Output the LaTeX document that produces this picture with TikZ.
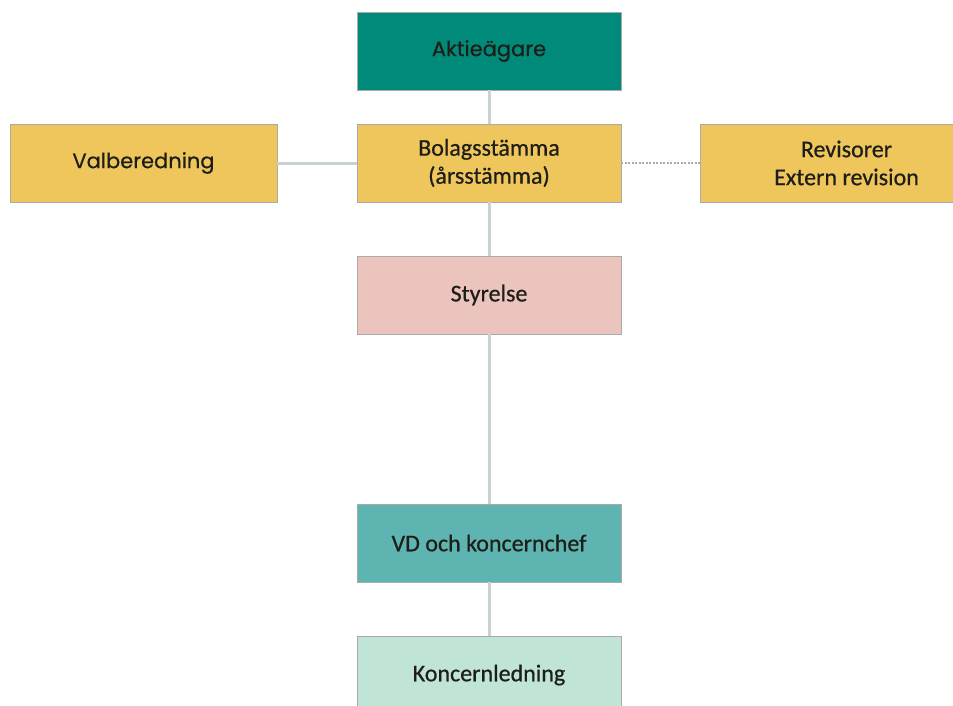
\documentclass[tikz,border=0pt]{standalone}
\usepackage{fontspec}
\setmainfont{Carlito}[FakeBold=0.6]
\newfontfamily\geofont{Poppins}[FakeBold=0.6]
\usepackage{xcolor}
\definecolor{darkTeal}{RGB}{0,138,121}
\definecolor{mustard}{RGB}{239,198,92}
\definecolor{rose}{RGB}{236,196,190}
\definecolor{midTeal}{RGB}{94,180,176}
\definecolor{mint}{RGB}{192,229,215}
\definecolor{edgeGray}{RGB}{170,170,170}
\definecolor{lineGray}{RGB}{200,210,210}
\definecolor{inkText}{RGB}{30,30,25}

\tikzset{
  orgbox/.style={draw=edgeGray, line width=0.8pt, minimum width=264, minimum height=78,
    align=center, inner sep=0pt, text=inkText, font=\fontsize{24}{28}\selectfont},
  geotext/.style={font=\geofont\fontsize{21}{25}\selectfont},
  link/.style={color=lineGray, line width=3pt},
  dotlink/.style={color=edgeGray, line width=2pt, dash pattern=on 2pt off 1.5pt},
}

\begin{document}
\begin{tikzpicture}[x=1pt,y=-1pt]
  \useasboundingbox (0,0) rectangle (953,706);

  \node[orgbox, fill=darkTeal, geotext] (aktie) at (489,51) {Aktieägare};
  \node[orgbox, fill=mustard] (stamma) at (489,163) {Bolagsstämma\\(årsstämma)};
  \node[orgbox, fill=mustard, minimum width=267, geotext] (valb) at (143.5,163) {Valberedning};
  \node[orgbox, fill=mustard, minimum width=293] (revis) at (846.5,163) {Revisorer\\Extern revision};
  \node[orgbox, fill=rose] (styr) at (489,295) {Styrelse};
  \node[orgbox, fill=midTeal] (vd) at (489,543) {VD och koncernchef};
  \node[orgbox, fill=mint] (koncern) at (489,675) {Koncernledning};

  % connectors
  \draw[link] (aktie) -- (stamma);
  \draw[link] (valb) -- (stamma);
  \draw[link] (stamma) -- (styr);
  \draw[link] (styr) -- (vd);
  \draw[link] (vd) -- (koncern);
  \draw[dotlink] (stamma) -- (revis);
\end{tikzpicture}
\end{document}
